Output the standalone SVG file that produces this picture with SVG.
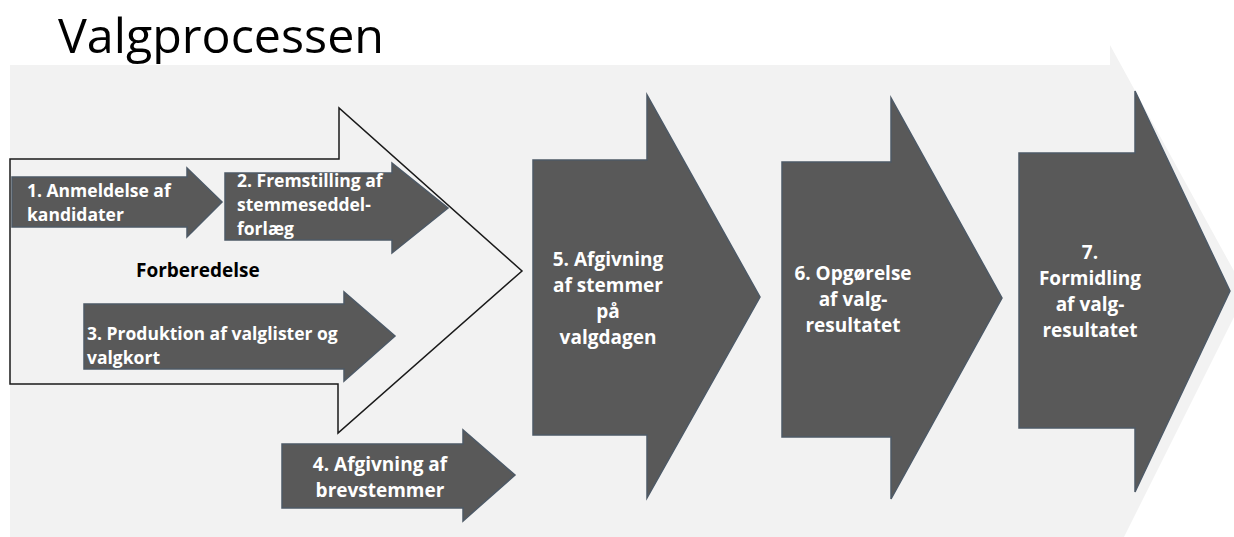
<svg xmlns="http://www.w3.org/2000/svg" width="1234" height="537" viewBox="0 0 1234 537">
<style>
.dark{fill:#595959;stroke:#4d5966;stroke-width:1.5;stroke-linejoin:miter}
.lbl{font-family:"Open Sans","Liberation Sans",sans-serif;font-weight:bold;fill:#ffffff;font-size:17.5px}
.big{font-family:"Open Sans","Liberation Sans",sans-serif;font-weight:bold;fill:#ffffff;font-size:19px;text-anchor:middle}
.title{font-family:"Open Sans","Liberation Sans",sans-serif;font-size:48px;fill:#000000}
.phase{font-family:"Open Sans","Liberation Sans",sans-serif;font-weight:bold;fill:#000000;font-size:19px}
</style>
<rect width="1234" height="537" fill="#ffffff"/>
<text class="title" x="58" y="53" textLength="326" lengthAdjust="spacingAndGlyphs">Valgprocessen</text>
<g id="background">
<polygon points="10,65 1110,65 1110,45 1246,293 1124,537 10,537" fill="#f2f2f2"/>
</g>
<g id="forberedelse">
<polygon points="10,159 339,159 339,108 522,271 338,433 338,384 10,384" fill="none" stroke="#1a1a1a" stroke-width="1.5"/>
<text class="phase" x="136" y="277">Forberedelse</text>
</g>
<g id="step1">
<polygon class="dark" points="12,177 187,177 187,168 222,202 187,237 187,227 12,227"/>
<text class="lbl" x="27" y="197">1. Anmeldelse af</text>
<text class="lbl" x="27" y="221">kandidater</text>
</g>
<g id="step2">
<polygon class="dark" points="225,173 392,173 392,163 448,208 392,253 392,240 225,240"/>
<text class="lbl" x="237" y="187">2. Fremstilling af</text>
<text class="lbl" x="237" y="211">stemmeseddel-</text>
<text class="lbl" x="237" y="235">forlæg</text>
</g>
<g id="step3">
<polygon class="dark" points="84,304 344,304 344,292 395,336 344,381 344,369 84,369"/>
<text class="lbl" x="87" y="340">3. Produktion af valglister og</text>
<text class="lbl" x="87" y="364">valgkort</text>
</g>
<g id="step4">
<polygon class="dark" points="282,444 463,444 463,430 515,475 463,521 463,508 282,508"/>
<text class="big" x="380" y="471">4. Afgivning af</text>
<text class="big" x="380" y="497">brevstemmer</text>
</g>
<g id="step5">
<polygon class="dark" points="533,160 647,160 647,95 760,297 647,498 647,435 533,435"/>
<text class="big" x="608" y="266">5. Afgivning</text>
<text class="big" x="608" y="292">af stemmer</text>
<text class="big" x="608" y="318">på</text>
<text class="big" x="608" y="344">valgdagen</text>
</g>
<g id="step6">
<polygon class="dark" points="782,162 891,162 891,98 1002,298 891,499 891,437 782,437"/>
<text class="big" x="853" y="280">6. Opgørelse</text>
<text class="big" x="853" y="306">af valg-</text>
<text class="big" x="853" y="332">resultatet</text>
</g>
<g id="step7">
<polygon class="dark" points="1019,153 1135,153 1135,91 1230,291 1135,492 1135,428 1019,428"/>
<text class="big" x="1090" y="259">7.</text>
<text class="big" x="1090" y="285">Formidling</text>
<text class="big" x="1090" y="311">af valg-</text>
<text class="big" x="1090" y="337">resultatet</text>
</g>
<g id="connectors"></g>
</svg>
